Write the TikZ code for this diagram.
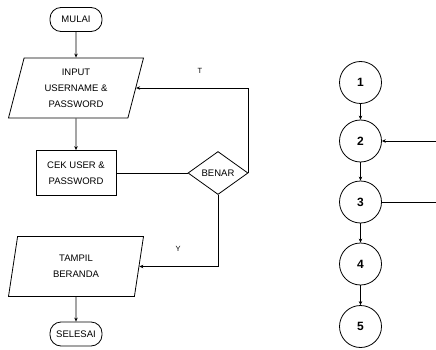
\documentclass[tikz,border=0pt]{standalone}
\usepackage{fontspec}
\setmainfont{Liberation Sans}
\usetikzlibrary{positioning, arrows.meta, shapes.geometric}

\begin{document}
\begin{tikzpicture}[
    x=1pt, y=-1pt,
    >={Stealth[length=4pt, width=3.5pt]},
    every path/.style={line width=0.8pt},
    termbox/.style={draw, rectangle, rounded corners=11pt, minimum width=52pt, minimum height=24pt, inner sep=1pt, font=\fontsize{9.5}{10}\selectfont},
    iobox/.style={draw, trapezium, trapezium left angle=68, trapezium right angle=112, trapezium stretches body, minimum width=135pt, minimum height=60pt, inner sep=0pt, align=center, font=\fontsize{9.5}{16}\selectfont},
    procbox/.style={draw, rectangle, minimum width=80pt, minimum height=45pt, inner sep=1pt, align=center, font=\fontsize{9.5}{16}\selectfont},
    decbox/.style={draw, diamond, minimum width=60pt, minimum height=43pt, inner sep=0pt, font=\fontsize{9.5}{10}\selectfont},
    numcirc/.style={draw, circle, minimum size=42pt, inner sep=0pt, font=\fontsize{12}{12}\selectfont\bfseries},
    lbl/.style={font=\fontsize{7.5}{8}\selectfont},
    flowarrow/.style={->, black}
]

\useasboundingbox (0,0) rectangle (436,350);

% Flowchart
\node[termbox] (mulai) at (76,19.5) {MULAI};
\node[iobox] (input) at (76,88) {INPUT\\USERNAME \&\\PASSWORD};
\node[procbox] (cek) at (76,173) {CEK USER \&\\PASSWORD};
\node[decbox] (benar) at (218,173) {BENAR};
\node[iobox] (tampil) at (76,266.5) {TAMPIL\\BERANDA};
\node[termbox] (selesai) at (76,334) {SELESAI};

\draw[flowarrow] (mulai) -- (input);
\draw[flowarrow] (input) -- (cek);
\draw (cek.east) -- (benar.west);
\draw[flowarrow] (benar.east) |- (input.east);
\draw[flowarrow] (benar.south) |- (tampil.east);
\draw[flowarrow] (tampil) -- (selesai);

\node[lbl] (lbl_t) at (200,71) {T};
\node[lbl] (lbl_y) at (178,249) {Y};

% Flow graph
\node[numcirc] (n1) at (360.5,82.5) {1};
\node[numcirc] (n2) at (360.5,141) {2};
\node[numcirc] (n3) at (360.5,202) {3};
\node[numcirc] (n4) at (360.5,264) {4};
\node[numcirc] (n5) at (360.5,326.5) {5};

\foreach \a/\b in {n1/n2, n2/n3, n3/n4, n4/n5}
    \draw[flowarrow] (\a) -- (\b);

\coordinate (in2) at (436,141);
\coordinate (out3) at (436,202);
\draw[flowarrow] (in2) -- (n2.east);
\draw (n3.east) -- (out3);

\end{tikzpicture}
\end{document}
